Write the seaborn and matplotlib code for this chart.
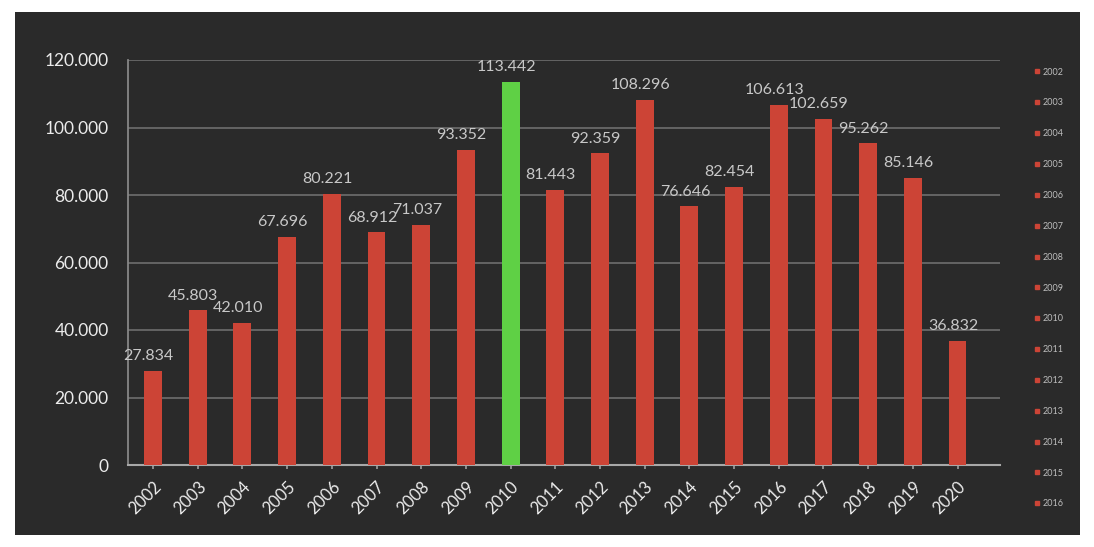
import matplotlib
matplotlib.use("Agg")
import matplotlib.pyplot as plt
import seaborn as sns
import pandas as pd
from matplotlib.lines import Line2D

years = [str(y) for y in range(2002, 2021)]
values = [27834, 45803, 42010, 67696, 80221, 68912, 71037, 93352, 113442,
          81443, 92359, 108296, 76646, 82454, 106613, 102659, 95262, 85146, 36832]
highlight = ["2010"]
legend_years = [str(y) for y in range(2002, 2017)]
yticks = [0, 20000, 40000, 60000, 80000, 100000, 120000]

def fmt(v):
    return f"{v:,}".replace(",", ".")

df = pd.DataFrame({"year": years, "value": values})
df["grp"] = ["hi" if y in highlight else "lo" for y in years]

sns.set_theme(style="dark")
plt.rcParams['font.family'] = ['Lato', 'DejaVu Sans']

fig = plt.figure(figsize=(10.94, 5.47), dpi=100)
fig.patch.set_facecolor("white")
bgax = fig.add_axes([15/1094, 12/547, 1065/1094, 1 - 24/547], zorder=-10)
bgax.set_facecolor("#2a2a2a")
bgax.set_xticks([]); bgax.set_yticks([])
for s in bgax.spines.values():
    s.set_visible(False)

ax = fig.add_axes([128/1094, 1 - 465/547, 872/1094, 405/547])
ax.set_facecolor("#2a2a2a")
red = "#cc4436"
green = "#5fd045"
sns.barplot(data=df, x="year", y="value", hue="grp", palette={"lo": red, "hi": green},
            dodge=False, width=0.4, legend=False, ax=ax, zorder=3,
            saturation=1, edgecolor="none", linewidth=0)

ax.set_ylim(0, 120000)
ax.set_xlim(-0.56, 18.95)
ax.set_yticks(yticks)
ax.set_yticklabels([fmt(v) for v in yticks], color="#ececec", fontsize=12.5)
ax.tick_params(axis="y", length=0, pad=14)
ax.set_xticks(range(len(years)))
ax.set_xticklabels(years, rotation=45, ha="right", rotation_mode="anchor",
                   color="#ececec", fontsize=12)
ax.tick_params(axis="x", length=3, color="#999999", pad=7, bottom=True)
ax.set_xlabel("")
ax.set_ylabel("")
ax.grid(axis="y", color="#6e6e6e", linewidth=1.2, zorder=1)
ax.grid(axis="x", visible=False)
for s in ["top", "right"]:
    ax.spines[s].set_visible(False)
ax.spines["left"].set_color("#8a8a8a")
ax.spines["bottom"].set_color("#a8a8a8")
ax.spines["bottom"].set_linewidth(1.5)

for i, v in enumerate(values):
    ax.text(i - 0.1, v + 2300, fmt(v), ha="center", va="bottom", color="#c8c8c8",
            fontsize=11.5, zorder=5, clip_on=False)

handles = [Line2D([0], [0], marker="s", linestyle="none", markersize=3,
                  markerfacecolor=red, markeredgecolor=red) for _ in legend_years]
leg = fig.legend(handles, legend_years, loc="upper left",
                 bbox_to_anchor=(1030/1094, 1 - 64/547), frameon=False,
                 fontsize=6.5, labelspacing=2.42, handletextpad=0.2,
                 handlelength=0.8, borderaxespad=0)
for t in leg.get_texts():
    t.set_color("#bdbdbd")

fig.savefig("out.png", dpi=100, facecolor=fig.get_facecolor())
